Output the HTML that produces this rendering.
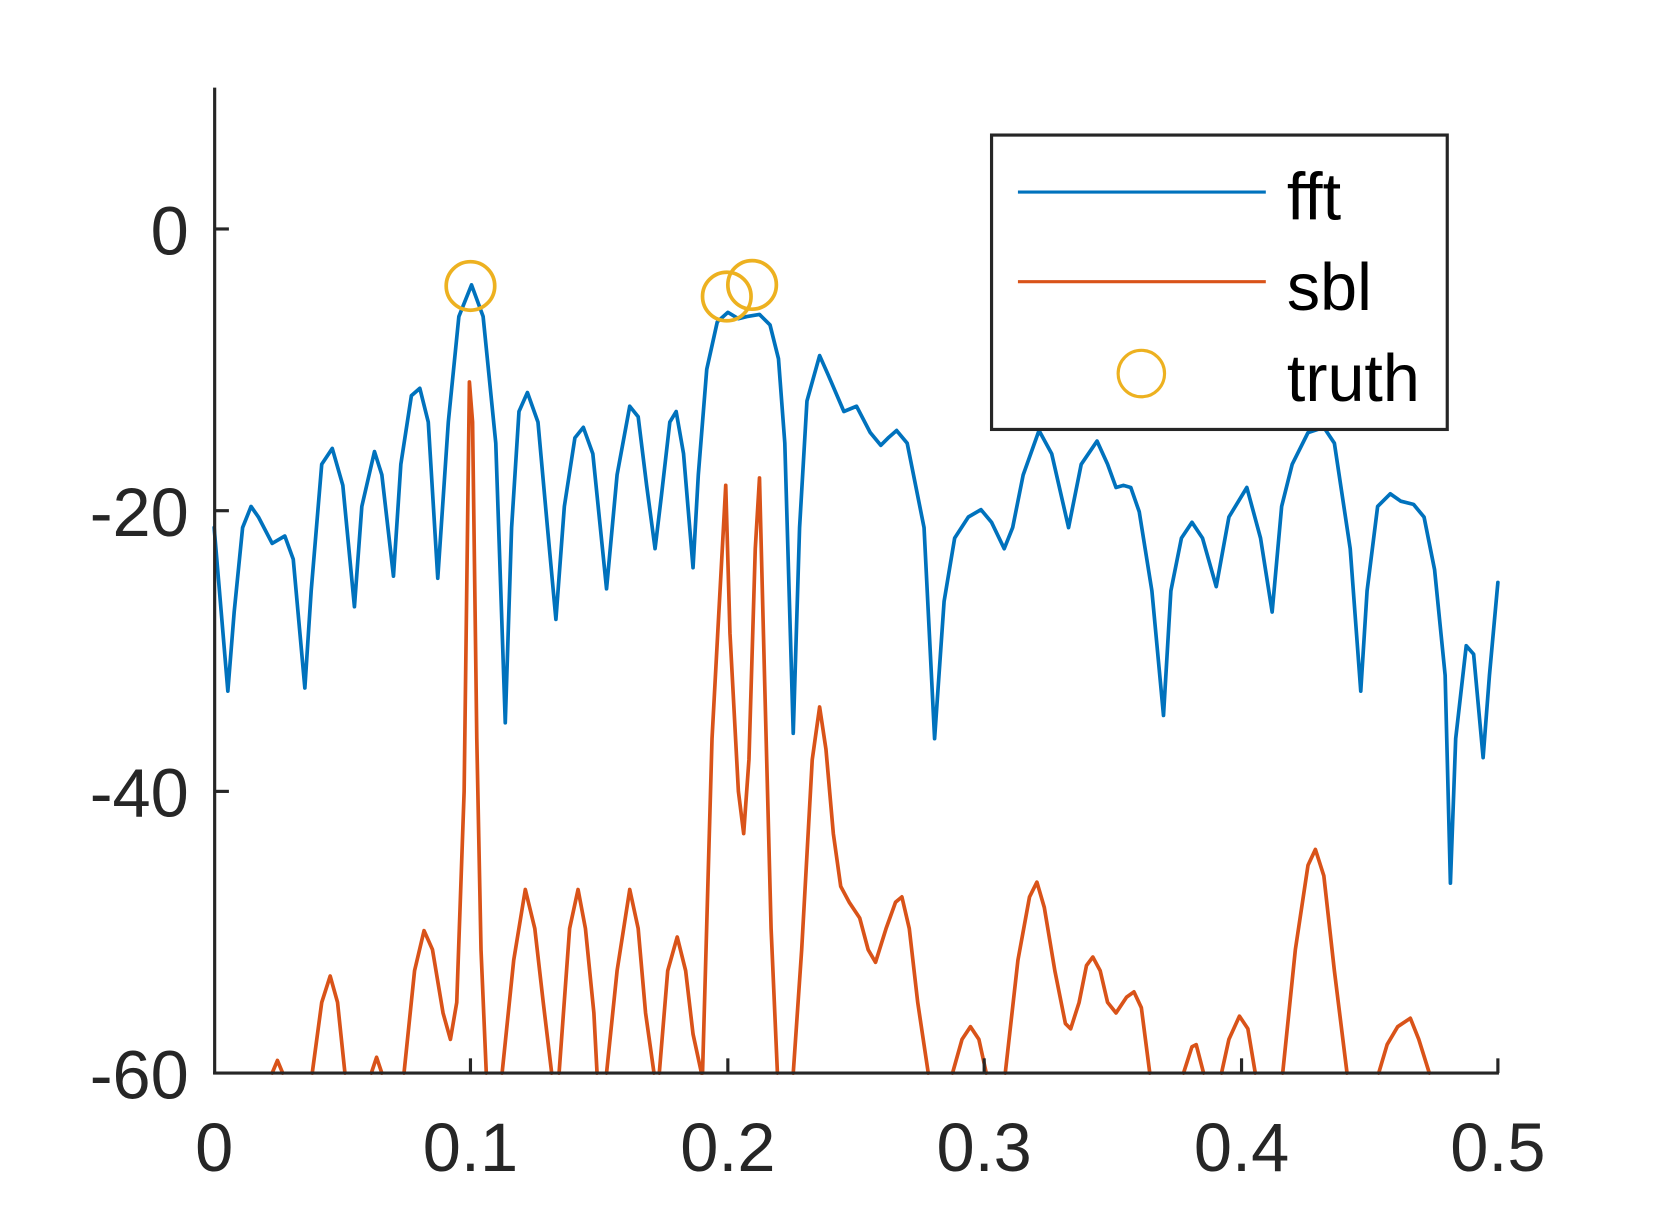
<!DOCTYPE html>
<html><head><meta charset="utf-8"><style>
html,body{margin:0;padding:0;background:#fff;}
svg{display:block;}
text{font-family:"Liberation Sans",Arial,sans-serif;fill:#262626;}
</style></head><body>
<svg width="1654" height="1205" viewBox="0 0 1568 1142" preserveAspectRatio="none" xmlns="http://www.w3.org/2000/svg">
<rect width="1568" height="1142" fill="#fff"/>
<g fill="none" stroke-linejoin="round" stroke-linecap="round">
<polyline stroke="#0072BD" stroke-width="3.5" points="203,500 216,655 222,580 230,500 238,480 245,490 258,515 270,508 278,530 289,652 295,560 305,440 315,425 325,460 336,575 343,480 355,428 362,450 373,546 380,440 390,375 398,368 406,400 415,548 425,400 435,300 447,270 458,300 470,420 479,685 485,500 492,390 500,372 510,400 519,500 527,587 535,480 545,415 553,405 562,430 575,558 585,450 597,385 605,395 613,460 621,520 627,470 635,400 641,390 648,430 657,538 662,450 670,350 680,305 690,296 700,302 708,300 720,298 730,308 738,340 744,420 752,695 758,500 765,380 777,337 785,355 800,390 812,385 825,410 835,422 842,415 850,408 860,420 876,500 886,700 895,570 905,510 918,490 930,483 940,495 952,520 960,500 970,450 985,408 997,430 1013,500 1025,440 1040,418 1050,440 1058,462 1065,460 1072,462 1080,485 1092,560 1103,678 1110,560 1120,510 1130,495 1140,510 1153,556 1165,490 1182,462 1195,510 1206,580 1215,480 1225,440 1240,410 1255,405 1265,420 1280,520 1290,655 1296,560 1306,480 1318,468 1328,475 1340,478 1350,490 1360,540 1370,640 1375,837 1380,700 1390,612 1397,620 1406,718 1412,640 1420,552"/>
<g stroke="#D95319" stroke-width="3.5">
<polyline points="258,1017 263,1005 268,1017"/>
<polyline points="296,1017 305,950 313,925 320,950 327,1017"/>
<polyline points="352,1017 357,1002 362,1017"/>
<polyline points="383,1017 393,920 402,882 410,900 420,960 427,985 433,950 440,750 445,362 448,400 452,700 456,900 461,1017"/>
<polyline points="476,1017 487,910 498,843 507,880 515,950 523,1017"/>
<polyline points="530,1017 540,880 548,843 555,880 563,960 566,1017"/>
<polyline points="575,1017 585,920 597,843 605,880 612,960 620,1017"/>
<polyline points="625,1017 633,920 642,888 650,920 657,980 665,1017"/>
<polyline points="666,1017 675,700 688,460 692,600 700,750 705,790 710,720 716,520 720,453 725,650 731,880 737,1017"/>
<polyline points="752,1017 760,900 770,720 777,670 783,710 790,790 797,840 805,855 815,870 823,900 830,912 840,880 849,855 855,850 862,880 870,950 880,1017"/>
<polyline points="903,1017 912,985 920,973 928,985 935,1017"/>
<polyline points="953,1017 965,910 976,850 983,836 990,860 1000,920 1010,970 1015,975 1023,950 1030,915 1036,907 1043,920 1050,950 1058,960 1068,945 1075,940 1082,955 1090,1017"/>
<polyline points="1122,1017 1130,992 1134,990 1141,1017"/>
<polyline points="1158,1017 1165,985 1175,963 1183,975 1190,1017"/>
<polyline points="1216,1017 1228,900 1240,820 1247,805 1255,830 1265,920 1277,1017"/>
<polyline points="1307,1017 1315,990 1325,973 1337,965 1345,985 1355,1017"/>
</g>
<g stroke="#EDB120" stroke-width="3.5">
<circle cx="446" cy="271" r="23"/>
<circle cx="689" cy="281" r="23"/>
<circle cx="713" cy="270" r="23"/>
</g>
<g stroke="#262626" stroke-width="3" stroke-linecap="butt">
<line x1="203.5" y1="83" x2="203.5" y2="1018"/>
<line x1="202" y1="1017" x2="1421" y2="1017"/>
<line x1="203" y1="217" x2="217" y2="217"/>
<line x1="203" y1="484" x2="217" y2="484"/>
<line x1="203" y1="750" x2="217" y2="750"/>
<line x1="446" y1="1017" x2="446" y2="1003"/>
<line x1="690" y1="1017" x2="690" y2="1003"/>
<line x1="933" y1="1017" x2="933" y2="1003"/>
<line x1="1177" y1="1017" x2="1177" y2="1003"/>
<line x1="1420" y1="1017" x2="1420" y2="1003"/>
</g>
</g>
<g font-size="65" text-anchor="end">
<text x="179" y="241">0</text>
<text x="179" y="508">-20</text>
<text x="179" y="774">-40</text>
<text x="179" y="1041">-60</text>
</g>
<g font-size="65" text-anchor="middle">
<text x="203" y="1110">0</text>
<text x="446" y="1110">0.1</text>
<text x="690" y="1110">0.2</text>
<text x="933" y="1110">0.3</text>
<text x="1177" y="1110">0.4</text>
<text x="1420" y="1110">0.5</text>
</g>
<rect x="940" y="128" width="432" height="279" fill="#fff" stroke="#262626" stroke-width="3"/>
<line x1="965" y1="182" x2="1200" y2="182" stroke="#0072BD" stroke-width="3"/>
<line x1="965" y1="267" x2="1200" y2="267" stroke="#D95319" stroke-width="3"/>
<circle cx="1082" cy="354" r="22" fill="none" stroke="#EDB120" stroke-width="3"/>
<g font-size="63">
<text x="1220" y="208" style="fill:#000">fft</text>
<text x="1220" y="294" style="fill:#000">sbl</text>
<text x="1220" y="380" style="fill:#000">truth</text>
</g>
</svg>
</body></html>
